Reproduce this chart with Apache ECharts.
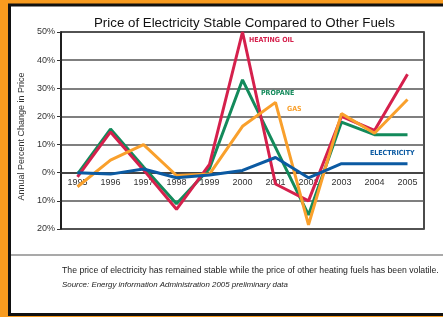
<!DOCTYPE html>
<html>
<head>
<meta charset="utf-8">
<script src="https://cdn.jsdelivr.net/npm/echarts@6/dist/echarts.min.js"></script>
<style>
	html, body { margin: 0; padding: 0; background: #f89b1f; }
	#chart { width: 443px; height: 317px; }
</style>
</head>
<body>
<div id="chart"></div>
<script>
var years = [ '1995', '1996', '1997', '1998', '1999', '2000', '2001', '2002',
	'2003', '2004', '2005' ];
var heatingOil = [ -1.5, 14.5, 1, -13, 3, 50, -4, -10, 20, 15, 35 ];
var propane = [ -0.5, 15.5, 2, -11, 1.5, 33, 9, -15, 18, 13.5, 13.5 ];
var gas = [ -5, 4.5, 10, -1, -0.5, 16.5, 25, -18.5, 21, 14, 26 ];
var electricity = [ 0, -0.5, 1.3, -1.8, -0.8, 0.8, 5.4, -1.8, 3.2, 3.2, 3.2 ];

var red = '#d5204c';
var green = '#138a5b';
var orange = '#f9a02c';
var blue = '#0b5aa2';
var narrow = '"Liberation Sans Narrow", "DejaVu Sans Condensed", sans-serif';

// plot is 197px tall for 70 points, the x axis sits on 0% (20 points up)
var gridTop = 32, gridBottom = 88, yMin = -20, yMax = 50;
var zeroOffset = -(0 - yMin) / (yMax - yMin) * (317 - gridTop - gridBottom);

function lineSeries(name, data, color, z) {
	return {
		name : name,
		type : 'line',
		data : data,
		symbol : 'none',
		z : z,
		lineStyle : {
			color : color,
			width : 3
		}
	};
}

function seriesLabel(text, x, y, color) {
	return {
		type : 'text',
		left : x,
		top : y,
		z : 100,
		style : {
			text : text,
			fill : color,
			font : 'bold 7px ' + narrow
		}
	};
}

var option = {
	backgroundColor : '#f89b1f',
	animation : false,
	title : {
		text : 'Price of Electricity Stable Compared to Other Fuels',
		left : 89,
		top : 12,
		textStyle : {
			fontFamily : 'Liberation Sans',
			fontSize : 13.3,
			fontWeight : 'normal',
			color : '#111'
		}
	},
	grid : {
		left : 61,
		right : 19,
		top : gridTop,
		bottom : gridBottom,
		show : true,
		borderColor : '#111',
		borderWidth : 1.5,
		backgroundColor : 'transparent'
	},
	graphic : [ {
		type : 'rect',
		z : -10,
		silent : true,
		shape : {
			x : 9.5,
			y : 5,
			width : 440,
			height : 309.5
		},
		style : {
			fill : '#fff',
			stroke : '#111',
			lineWidth : 3
		}
	}, {
		type : 'line',
		z : -5,
		silent : true,
		shape : {
			x1 : 11,
			y1 : 255,
			x2 : 443,
			y2 : 255
		},
		style : {
			stroke : '#555',
			lineWidth : 1.2
		}
	}, {
		type : 'text',
		left : 62,
		top : 266,
		style : {
			text : 'The price of electricity has remained stable while the price of other heating fuels has been volatile.',
			fill : '#222',
			font : '8.7px "Liberation Sans", sans-serif'
		}
	}, {
		type : 'text',
		left : 62,
		top : 281,
		style : {
			text : 'Source: Energy information Administration 2005 preliminary data',
			fill : '#222',
			font : 'italic 7.9px "Liberation Sans", sans-serif'
		}
	}, seriesLabel('HEATING OIL', 249, 37, red),
		seriesLabel('PROPANE', 261, 90, green),
		seriesLabel('GAS', 287, 106, orange),
		seriesLabel('ELECTRICITY', 370, 150, blue) ],
	xAxis : {
		type : 'category',
		data : years,
		boundaryGap : true,
		offset : zeroOffset,
		axisLine : {
			onZero : false,
			lineStyle : {
				color : '#333',
				width : 1.5
			}
		},
		axisTick : {
			inside : true,
			length : 4,
			lineStyle : {
				color : '#333'
			}
		},
		axisLabel : {
			margin : 5,
			fontFamily : 'Liberation Sans',
			fontSize : 9,
			color : '#333'
		},
		splitLine : {
			show : false
		}
	},
	yAxis : {
		type : 'value',
		min : yMin,
		max : yMax,
		interval : 10,
		name : 'Annual Percent Change in Price',
		nameLocation : 'middle',
		nameGap : 31,
		nameTextStyle : {
			fontFamily : 'Liberation Sans',
			fontSize : 9,
			color : '#333',
			padding : [ 0, 12, 0, 0 ]
		},
		axisLine : {
			show : true,
			lineStyle : {
				color : '#111',
				width : 1.5
			}
		},
		axisTick : {
			show : true,
			length : 4,
			lineStyle : {
				color : '#333'
			}
		},
		axisLabel : {
			margin : 6,
			fontFamily : 'Liberation Sans',
			fontSize : 9,
			color : '#333',
			formatter : function(v) {
				return Math.abs(v) + '%';
			}
		},
		splitLine : {
			lineStyle : {
				color : '#555',
				width : 1.5
			}
		}
	},
	series : [ lineSeries('Propane', propane, green, 2),
		lineSeries('Heating Oil', heatingOil, red, 3),
		lineSeries('Gas', gas, orange, 4),
		lineSeries('Electricity', electricity, blue, 5) ]
};

var graph = echarts.init(document.getElementById('chart'));
graph.setOption(option);
</script>
</body>
</html>
